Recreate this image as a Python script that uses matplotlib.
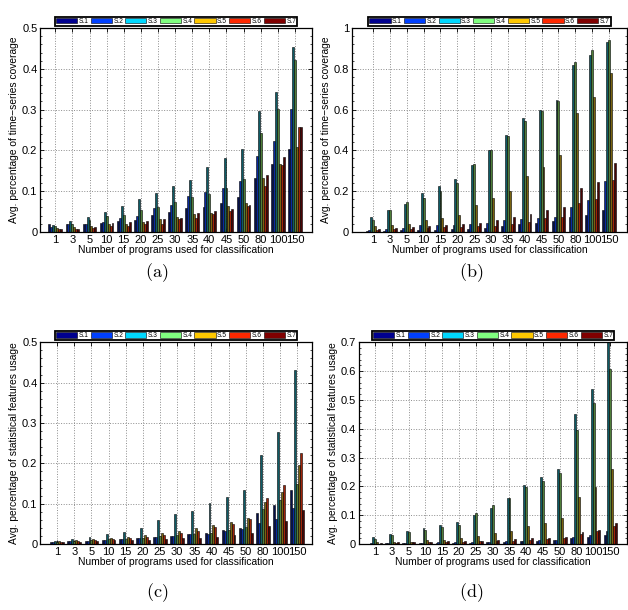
import numpy as np
import matplotlib
matplotlib.use('Agg')
import matplotlib.pyplot as plt
from matplotlib.patches import Patch
from matplotlib.ticker import MultipleLocator, FormatStrFormatter

plt.rcParams['font.family'] = ['Liberation Sans', 'DejaVu Sans']
plt.rcParams['mathtext.fontset'] = 'cm'

programs = ['1', '3', '5', '10', '15', '20', '25', '30', '35', '40', '45', '50', '80', '100', '150']
series = ['S.1', 'S.2', 'S.3', 'S.4', 'S.5', 'S.6', 'S.7']

# (a) time-series coverage, rows = S.1..S.7
cov_a = [
    [0.018, 0.019, 0.018, 0.022, 0.026, 0.030, 0.041, 0.048, 0.059, 0.061, 0.071, 0.086, 0.131, 0.166, 0.202],
    [0.013, 0.018, 0.018, 0.023, 0.033, 0.038, 0.059, 0.066, 0.088, 0.098, 0.108, 0.124, 0.187, 0.224, 0.302],
    [0.016, 0.026, 0.036, 0.049, 0.064, 0.080, 0.095, 0.112, 0.127, 0.160, 0.181, 0.202, 0.296, 0.342, 0.454],
    [0.014, 0.019, 0.028, 0.038, 0.041, 0.053, 0.062, 0.073, 0.085, 0.092, 0.107, 0.129, 0.242, 0.302, 0.422],
    [0.009, 0.011, 0.014, 0.018, 0.020, 0.025, 0.031, 0.036, 0.043, 0.046, 0.064, 0.070, 0.133, 0.166, 0.209],
    [0.006, 0.008, 0.010, 0.015, 0.015, 0.018, 0.020, 0.032, 0.035, 0.043, 0.052, 0.063, 0.113, 0.164, 0.258],
    [0.006, 0.008, 0.013, 0.021, 0.023, 0.026, 0.031, 0.035, 0.046, 0.050, 0.057, 0.066, 0.139, 0.183, 0.258],
]
# (b) time-series coverage
cov_b = [
    [0.003, 0.005, 0.007, 0.010, 0.010, 0.012, 0.015, 0.020, 0.028, 0.040, 0.045, 0.055, 0.075, 0.082, 0.105],
    [0.010, 0.015, 0.018, 0.032, 0.032, 0.032, 0.038, 0.042, 0.057, 0.062, 0.068, 0.072, 0.120, 0.155, 0.247],
    [0.072, 0.105, 0.138, 0.188, 0.225, 0.258, 0.327, 0.400, 0.475, 0.560, 0.598, 0.645, 0.820, 0.870, 0.930],
    [0.060, 0.105, 0.145, 0.165, 0.198, 0.240, 0.335, 0.403, 0.470, 0.545, 0.593, 0.640, 0.835, 0.893, 0.943],
    [0.028, 0.032, 0.038, 0.058, 0.070, 0.082, 0.130, 0.165, 0.200, 0.272, 0.320, 0.375, 0.585, 0.662, 0.780],
    [0.010, 0.015, 0.015, 0.020, 0.022, 0.025, 0.028, 0.030, 0.038, 0.050, 0.068, 0.072, 0.140, 0.160, 0.252],
    [0.012, 0.018, 0.022, 0.028, 0.032, 0.037, 0.045, 0.057, 0.072, 0.087, 0.105, 0.120, 0.213, 0.243, 0.340],
]
# (c) statistical features usage
use_c = [
    [0.005, 0.008, 0.008, 0.010, 0.012, 0.014, 0.018, 0.020, 0.025, 0.028, 0.035, 0.041, 0.076, 0.097, 0.134],
    [0.006, 0.008, 0.008, 0.010, 0.012, 0.014, 0.018, 0.020, 0.025, 0.026, 0.032, 0.038, 0.052, 0.063, 0.090],
    [0.007, 0.013, 0.018, 0.025, 0.031, 0.041, 0.059, 0.075, 0.083, 0.102, 0.116, 0.135, 0.220, 0.278, 0.430],
    [0.006, 0.008, 0.010, 0.012, 0.013, 0.016, 0.020, 0.022, 0.026, 0.028, 0.034, 0.042, 0.088, 0.110, 0.149],
    [0.007, 0.010, 0.012, 0.015, 0.018, 0.022, 0.028, 0.032, 0.040, 0.047, 0.056, 0.065, 0.105, 0.128, 0.196],
    [0.006, 0.008, 0.010, 0.012, 0.015, 0.018, 0.022, 0.027, 0.033, 0.043, 0.050, 0.063, 0.115, 0.146, 0.225],
    [0.005, 0.006, 0.007, 0.009, 0.009, 0.011, 0.013, 0.014, 0.016, 0.018, 0.022, 0.028, 0.046, 0.058, 0.085],
]
# (d) statistical features usage
use_d = [
    [0.002, 0.003, 0.003, 0.004, 0.004, 0.005, 0.005, 0.006, 0.007, 0.010, 0.012, 0.014, 0.020, 0.025, 0.030],
    [0.003, 0.003, 0.004, 0.005, 0.006, 0.007, 0.007, 0.008, 0.010, 0.012, 0.015, 0.016, 0.025, 0.030, 0.045],
    [0.026, 0.035, 0.044, 0.056, 0.067, 0.078, 0.100, 0.125, 0.160, 0.205, 0.233, 0.262, 0.450, 0.538, 0.700],
    [0.017, 0.030, 0.042, 0.050, 0.058, 0.068, 0.107, 0.135, 0.160, 0.198, 0.220, 0.246, 0.395, 0.488, 0.606],
    [0.006, 0.008, 0.008, 0.014, 0.015, 0.020, 0.028, 0.038, 0.046, 0.063, 0.073, 0.090, 0.165, 0.198, 0.260],
    [0.002, 0.005, 0.006, 0.008, 0.008, 0.009, 0.010, 0.012, 0.012, 0.015, 0.018, 0.020, 0.035, 0.045, 0.062],
    [0.003, 0.006, 0.006, 0.008, 0.010, 0.012, 0.012, 0.015, 0.018, 0.020, 0.022, 0.025, 0.042, 0.050, 0.072],
]

legend_colors = ['#00008f', '#0040ff', '#00d8ff', '#80ff80', '#ffc800', '#ff2800', '#800000']
bar_colors = ['#06104a', '#0a2aa0', '#0e5c66', '#4f7f3a', '#7a6410', '#a02408', '#4a0404']

ylab_cov = 'Avg. percentage of time\u2212series coverage'
ylab_use = 'Avg. percentage of statistical features usage'
xlab = 'Number of programs used for classification'

panels = [
    # data, rect, ylim, ystep, yminor, xlim, ylabel, tag, tag pos
    (cov_a, [0.064, 0.620, 0.433, 0.334], 0.5, 0.1, 0.02, (0.12, 16.0), ylab_cov, '(a)', (0.25, 0.553)),
    (cov_b, [0.5605, 0.620, 0.438, 0.334], 1.0, 0.2, 0.04, (-0.25, 16.07), ylab_cov, '(b)', (0.75, 0.553)),
    (use_c, [0.064, 0.108, 0.433, 0.331], 0.5, 0.1, 0.02, (0.01, 15.87), ylab_use, '(c)', (0.25, 0.028)),
    (use_d, [0.5717, 0.108, 0.427, 0.331], 0.7, 0.1, 0.02, (0.05, 16.0), ylab_use, '(d)', (0.75, 0.028)),
]

fig = plt.figure(figsize=(6.28, 6.10), dpi=100)
x = np.arange(1, len(programs) + 1)
group_w = 0.8
w = group_w / len(series)

for data, rect, ymax, ystep, yminor, xlim, ylabel, tag, tagpos in panels:
    ax = fig.add_axes(rect)
    ax.set_axisbelow(True)
    for i in range(len(series)):
        off = -group_w / 2 + w * (i + 0.5)
        ax.bar(x + off, data[i], width=w, color=bar_colors[i],
               edgecolor='black', linewidth=0.4)
    ax.set_xlim(*xlim)
    ax.set_ylim(0, ymax)
    ax.set_xticks(x)
    ax.set_xticklabels(programs)
    ax.yaxis.set_major_locator(MultipleLocator(ystep))
    ax.yaxis.set_minor_locator(MultipleLocator(yminor))
    ax.yaxis.set_major_formatter(FormatStrFormatter('%g'))
    ax.tick_params(axis='both', which='both', direction='in', top=True, right=True,
                   labelsize=8, pad=2)
    ax.tick_params(which='major', length=3, width=0.6)
    ax.tick_params(which='minor', length=1.5, width=0.5)
    ax.grid(True, which='major', linestyle=':', color='#8c8c8c', linewidth=0.7)
    for sp in ax.spines.values():
        sp.set_linewidth(0.9)
    ax.set_ylabel(ylabel, fontsize=7.4, labelpad=2)
    ax.set_xlabel(xlab, fontsize=7.4, labelpad=0)

    handles = [Patch(facecolor=c, edgecolor='black', linewidth=0.4) for c in legend_colors]
    leg = ax.legend(handles, series, ncol=7, loc='lower center', bbox_to_anchor=(0.5, 1.01),
                    fontsize=4.8, handlelength=3.2, handleheight=0.9, handletextpad=0.2,
                    columnspacing=0.3, borderpad=0.15, borderaxespad=0.0,
                    frameon=True, fancybox=False, framealpha=1)
    leg.get_frame().set_edgecolor('black')
    leg.get_frame().set_linewidth(1.3)

    fig.text(tagpos[0], tagpos[1], r'$\mathrm{' + tag + '}$', ha='center', va='center', fontsize=13)

fig.savefig('out.png', dpi=100)
